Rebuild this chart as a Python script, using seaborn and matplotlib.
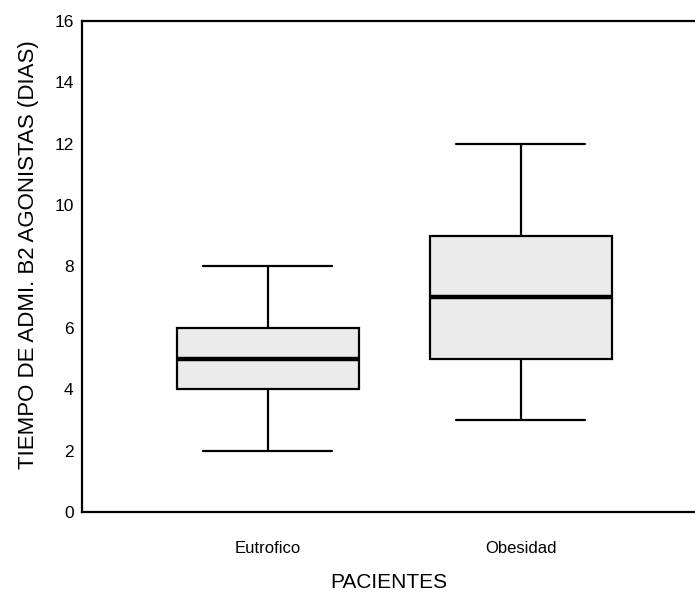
import numpy as np
import pandas as pd
import seaborn as sns
import matplotlib.pyplot as plt

eutrofico = [2, 4, 4, 5, 5, 5, 6, 6, 8]
obesidad = [3, 5, 5, 7, 7, 7, 9, 9, 12]
grupos = ["Eutrofico", "Obesidad"]
y_ticks = [0, 2, 4, 6, 8, 10, 12, 14, 16]

df = pd.DataFrame({
    "PACIENTES": ["Eutrofico"] * len(eutrofico) + ["Obesidad"] * len(obesidad),
    "dias": eutrofico + obesidad,
})

sns.set_style("white")
plt.rcParams["font.family"] = ["Liberation Sans", "DejaVu Sans"]
plt.rcParams["text.color"] = "black"
plt.rcParams["axes.labelcolor"] = "black"
plt.rcParams["xtick.color"] = "black"
plt.rcParams["ytick.color"] = "black"

fig = plt.figure(figsize=(6.95, 5.93), dpi=100)
ax = fig.add_axes([0.118, 0.1366, 0.882, 0.828])

sns.boxplot(data=df, x="PACIENTES", y="dias", order=grupos, ax=ax,
            width=0.72, color="#ebebeb", linecolor="black", linewidth=1.6,
            whis=1.5, showfliers=False, saturation=1,
            medianprops=dict(color="black", linewidth=3.2))

# caps ~0.7 of the box width
for line in ax.lines:
    xd = np.asarray(line.get_xdata(), dtype=float)
    yd = np.asarray(line.get_ydata(), dtype=float)
    if len(xd) == 2 and yd[0] == yd[1] and (xd[1] - xd[0]) < 0.5:
        c = xd.mean()
        line.set_xdata([c - 0.255, c + 0.255])

ax.set_xlim(-0.735, 1.69)
ax.set_ylim(0, 16)
ax.set_yticks(y_ticks)
ax.set_yticklabels([str(t) for t in y_ticks], fontsize=12.5)
ax.tick_params(axis="x", labelsize=12, length=3, width=1.5, direction="out", pad=18)
ax.tick_params(axis="y", length=3, width=1.5, direction="out", pad=3)

for s in ["left", "bottom", "top"]:
    ax.spines[s].set_linewidth(1.6)
    ax.spines[s].set_color("black")
ax.spines["right"].set_visible(False)

ax.set_ylabel("TIEMPO DE ADMI. B2 AGONISTAS (DIAS)", fontsize=16)
ax.yaxis.set_label_coords(-0.07, 0.525)
ax.set_xlabel("PACIENTES", fontsize=15)
ax.xaxis.set_label_coords(0.5, -0.125)

fig.savefig("out.png", dpi=100)
